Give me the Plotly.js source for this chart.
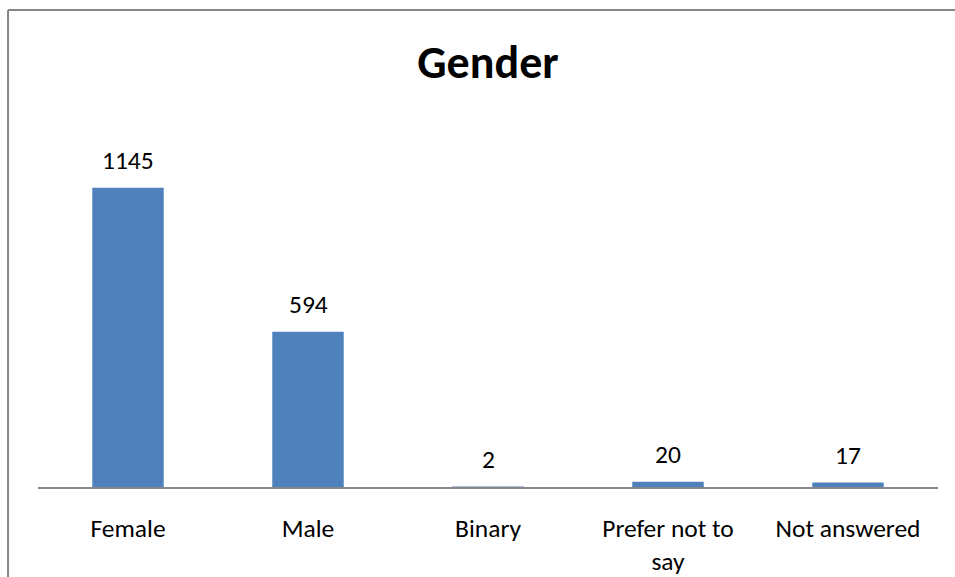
<!DOCTYPE html>
<html>
<head>
<meta charset="utf-8">
<script src="https://cdn.plot.ly/plotly-3.0.1.min.js"></script>
<style>
  html, body { margin: 0; padding: 0; background: #ffffff; }
  #chart { width: 955px; height: 577px; }
</style>
</head>
<body>
<div id="chart"></div>
<script>
const categories = ["Female", "Male", "Binary", "Prefer not to say", "Not answered"];
const tickLabels = ["Female", "Male", "Binary", "Prefer not to<br>say", "Not answered"];
const counts = [1145, 594, 2, 20, 17];

const FONT = "Carlito, Calibri, 'Open Sans', 'Noto Sans', sans-serif";

const trace = {
  type: "bar",
  x: categories,
  y: counts,
  marker: { color: "#4F81BD", line: { width: 0 } },
  hoverinfo: "x+y"
};

const annotations = categories.map((c, i) => ({
  x: c,
  y: counts[i],
  xref: "x",
  yref: "y",
  text: String(counts[i]),
  showarrow: false,
  yanchor: "middle",
  yshift: 27,
  font: { family: FONT, size: 25.5, color: "#000000" }
}));

const layout = {
  width: 955,
  height: 577,
  margin: { l: 37.5, r: 16.5, t: 121, b: 90, pad: 0 },
  paper_bgcolor: "#ffffff",
  plot_bgcolor: "#ffffff",
  showlegend: false,
  bargap: 0.603,
  title: {
    text: "<b>Gender</b>",
    font: { family: FONT, size: 46, color: "#000000" },
    xref: "paper",
    x: 0.5,
    xanchor: "center",
    yref: "container",
    y: 1 - 62 / 577,
    yanchor: "middle"
  },
  xaxis: {
    type: "category",
    tickvals: categories,
    ticktext: tickLabels,
    showline: true,
    linecolor: "#868686",
    linewidth: 1.5,
    showgrid: false,
    zeroline: false,
    ticks: "",
    ticklabelstandoff: 18,
    tickfont: { family: FONT, size: 25.5, color: "#000000" },
    fixedrange: true
  },
  yaxis: {
    range: [0, 1400],
    visible: false,
    showgrid: false,
    zeroline: false,
    fixedrange: true
  },
  annotations: annotations,
  shapes: [
    {
      type: "line", xref: "paper", yref: "paper",
      x0: (7.5 - 37.5) / 901, x1: (7.5 - 37.5) / 901,
      y0: (487 - 10) / 366, y1: -0.35,
      line: { color: "#868686", width: 2 }
    },
    {
      type: "line", xref: "paper", yref: "paper",
      x0: (7.5 - 37.5) / 901, x1: 1.1,
      y0: (487 - 10) / 366, y1: (487 - 10) / 366,
      line: { color: "#868686", width: 2 }
    }
  ]
};

Plotly.newPlot("chart", [trace], layout, { displayModeBar: false, staticPlot: true });
</script>
</body>
</html>
